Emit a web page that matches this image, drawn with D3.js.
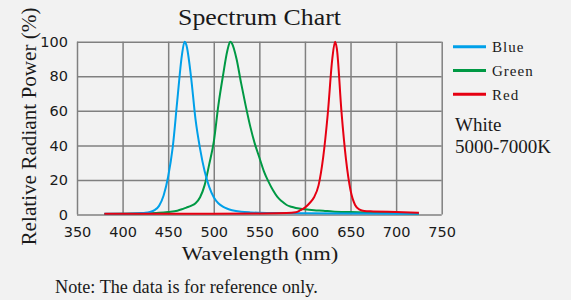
<!DOCTYPE html>
<html>
<head>
<meta charset="utf-8">
<script src="https://cdn.jsdelivr.net/npm/d3@7"></script>
<style>
html,body{margin:0;padding:0;background:#f2f2f2;}
svg{display:block;}
</style>
</head>
<body>
<svg id="chart" width="571" height="300"></svg>
<script>
// ---- data ----
const xTicks = [350, 400, 450, 500, 550, 600, 650, 700, 750];
const yTicks = [0, 20, 40, 60, 80, 100];
const seriesNames = ["Blue", "Green", "Red"];
const seriesColors = ["#00a0e9", "#009944", "#e60012"];

const blueWl =  [380,400,410,420,425,430,435,440,445,450,455,460,465,468,470,475,480,485,490,495,500,505,510,515,520,530,540,550,575,600,650,700,725];
const blueVal = [0.5,0.5,0.6,0.8,1.0,1.5,2.5,5,11,22,39,66,92,100,98,80,55,38,25,16,10,6.5,4.5,3.3,2.5,1.6,1.2,1.0,0.8,0.7,0.6,0.5,0.5];

const greenWl =  [380,400,420,440,450,460,465,470,475,480,485,490,495,500,505,510,515,518,520,525,530,535,540,545,550,555,560,565,570,575,580,585,590,600,610,620,630,650,675,700,725];
const greenVal = [0.3,0.4,0.6,1.0,1.5,2.2,3,4,5,6.5,10,17,29,42,63,80,95,100,99,90,76,63,51,41,33,25,19,14,10,7.5,5.5,4.5,3.8,3.0,2.5,2.2,1.8,1.4,1.0,0.8,0.5];

const redWl =  [380,450,500,550,580,590,595,600,605,610,615,620,625,630,633,635,640,645,650,655,660,665,675,700,725];
const redVal = [0.5,0.5,0.5,0.6,0.8,1.3,2.5,4,6.5,10,17,33,58,90,100,96,60,32,14,5.5,2.8,2.0,1.8,1.4,1.0];

const seriesWl = [blueWl, greenWl, redWl];
const seriesVal = [blueVal, greenVal, redVal];

const titleText = "Spectrum Chart";
const xLabel = "Wavelength (nm)";
const yLabel = "Relative Radiant Power (%)";
const noteText = "Note: The data is for reference only.";
const infoLines = ["White", "5000-7000K"];

// ---- layout ----
const svg = d3.select("#chart");
const L = 77, R = 441.7, T = 41.7, B = 214.5;
const x = d3.scaleLinear().domain([350, 750]).range([L, R]);
const y = d3.scaleLinear().domain([0, 100]).range([B, T]);
const gridColor = "#808080";
const textColor = "#1a1a1a";
const serif = "'Liberation Serif','Times New Roman',serif";
const sans = "'DejaVu Sans',sans-serif";

// grid
const gx = svg.append("g").attr("transform", `translate(0,${B})`)
  .call(d3.axisBottom(x).tickValues(xTicks).tickSize(-(B - T)).tickFormat(""));
gx.select(".domain").remove();
gx.selectAll("line").attr("stroke", gridColor).attr("stroke-width", 1.5);

const gy = svg.append("g").attr("transform", `translate(${L},0)`)
  .call(d3.axisLeft(y).tickValues(yTicks).tickSize(-(R - L)).tickFormat(""));
gy.select(".domain").remove();
gy.selectAll("line").attr("stroke", gridColor).attr("stroke-width", 1.5);

// tick labels
const lx = svg.append("g").attr("transform", `translate(0,${B})`)
  .call(d3.axisBottom(x).tickValues(xTicks).tickSize(0).tickPadding(12).tickFormat(d3.format("d")));
lx.select(".domain").remove();
lx.selectAll("text").attr("font-family", sans).attr("font-size", 14.5).attr("fill", textColor)
  .attr("dy", "0.71em");

const ly = svg.append("g").attr("transform", `translate(${L},0)`)
  .call(d3.axisLeft(y).tickValues(yTicks).tickSize(0).tickPadding(9).tickFormat(d3.format("d")));
ly.select(".domain").remove();
ly.selectAll("text").attr("font-family", sans).attr("font-size", 14.5).attr("fill", textColor);

// lines
const line = d3.line().x(d => x(d[0])).y(d => y(d[1])).curve(d3.curveMonotoneX);
const drawOrder = [1, 0, 2];
drawOrder.forEach(i => {
  const pts = seriesWl[i].map((w, k) => [w, seriesVal[i][k]]);
  svg.append("path").datum(pts).attr("d", line)
    .attr("fill", "none").attr("stroke", seriesColors[i]).attr("stroke-width", 2)
    .attr("stroke-linejoin", "round");
});

// title
svg.append("text").attr("x", 178).attr("y", 25)
  .attr("font-family", serif).attr("font-size", 24)
  .attr("textLength", 163).attr("lengthAdjust", "spacingAndGlyphs")
  .attr("fill", textColor).text(titleText);

// axis titles
svg.append("text").attr("x", 181.7).attr("y", 259.5)
  .attr("font-family", serif).attr("font-size", 19)
  .attr("textLength", 156.6).attr("lengthAdjust", "spacingAndGlyphs")
  .attr("fill", textColor).text(xLabel);

svg.append("text").attr("transform", `translate(35.5,126.5) rotate(-90)`)
  .attr("text-anchor", "middle")
  .attr("font-family", serif).attr("font-size", 21.5)
  .attr("textLength", 238).attr("lengthAdjust", "spacingAndGlyphs")
  .attr("fill", textColor).text(yLabel);

// note
svg.append("text").attr("x", 55).attr("y", 293)
  .attr("font-family", serif).attr("font-size", 18)
  .attr("textLength", 262.7).attr("lengthAdjust", "spacingAndGlyphs")
  .attr("fill", textColor).text(noteText);

// legend
const legY = [46.7, 70.5, 94.3];
seriesNames.forEach((n, i) => {
  svg.append("line").attr("x1", 453).attr("x2", 486).attr("y1", legY[i]).attr("y2", legY[i])
    .attr("stroke", seriesColors[i]).attr("stroke-width", 3);
  svg.append("text").attr("x", 492).attr("y", legY[i] + 5.5)
    .attr("font-family", serif).attr("font-size", 15).attr("letter-spacing", 1)
    .attr("fill", textColor).text(n);
});

infoLines.forEach((t, i) => {
  svg.append("text").attr("x", 455).attr("y", 131 + i * 22.3)
    .attr("font-family", serif).attr("font-size", 19)
    .attr("fill", textColor).text(t);
});
</script>
</body>
</html>
